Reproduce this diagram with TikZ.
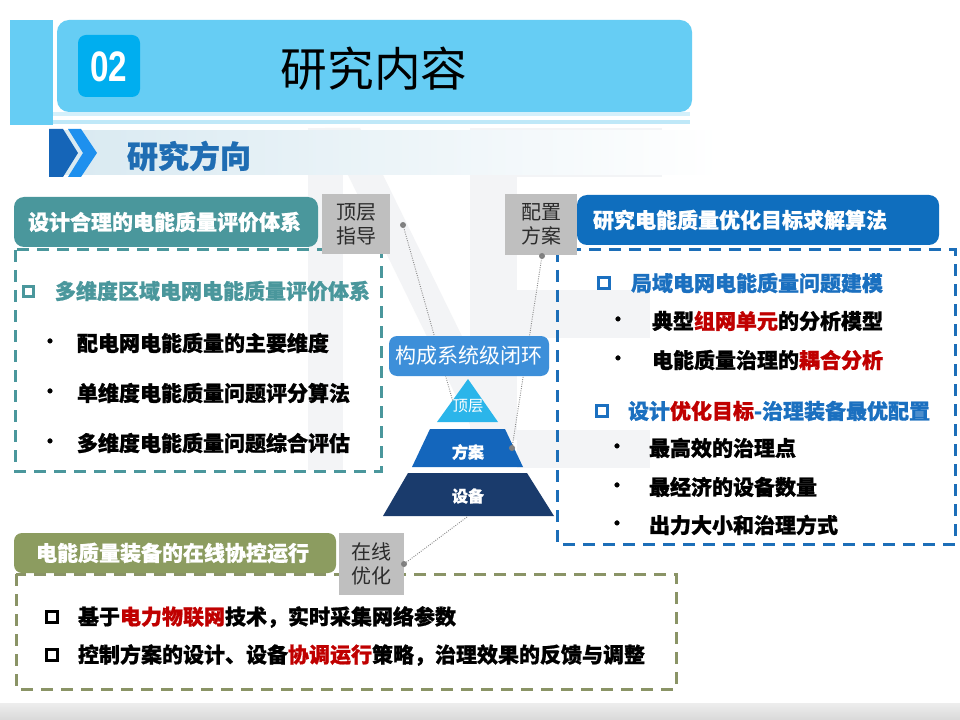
\documentclass[tikz,border=0pt]{standalone}
\usepackage{fontspec}
\setmainfont{Noto Sans CJK SC}[BoldFeatures={FakeBold=1}]
\newfontfamily\numfont{Liberation Sans}
\definecolor{hdrblue}{HTML}{66CDF4}
\definecolor{paleA}{HTML}{D4F0FB}
\definecolor{paleB}{HTML}{BFE8F8}
\definecolor{numblue}{HTML}{00AEEF}
\definecolor{chevdark}{HTML}{1565B8}
\definecolor{chevlight}{HTML}{1E90EE}
\definecolor{bandblue}{HTML}{D8E9F1}
\definecolor{secblue}{HTML}{1F6DB3}
\definecolor{tealc}{HTML}{4A979C}
\definecolor{boxgray}{HTML}{BFBFBF}
\definecolor{hblue}{HTML}{0F6EBE}
\definecolor{dblue}{HTML}{1C6EB8}
\definecolor{tblue}{HTML}{1B70C0}
\definecolor{hlred}{HTML}{C00000}
\definecolor{olivec}{HTML}{8C9C60}
\definecolor{dolive}{HTML}{8A9466}
\definecolor{loopblue}{HTML}{3D8FD9}
\definecolor{pyrA}{HTML}{2BB5EA}
\definecolor{pyrB}{HTML}{1466BC}
\definecolor{pyrC}{HTML}{1A3B6C}
\definecolor{wm}{HTML}{F3F4F6}
\definecolor{linegray}{HTML}{8C8C8C}
\definecolor{dotgray}{HTML}{7F7F7F}
\definecolor{graytext}{HTML}{2B2B2B}
\begin{document}
\begin{tikzpicture}[x=0.75pt,y=-0.75pt,
  every node/.style={inner sep=0pt,outer sep=0pt},
  graybox/.style={fill=boxgray, align=center, text=graytext, font=\fontsize{15}{18}\selectfont},
  hdtext/.style={anchor=west, text=white, font=\fontsize{15.75}{18}\selectfont\bfseries},
  body/.style={anchor=west, font=\fontsize{15.75}{18}\selectfont\bfseries},
  bul/.style={anchor=center, font=\fontsize{13}{13}\selectfont\bfseries},
  sq/.style={draw=#1, line width=2.4pt, minimum size=8pt},
  dashbox/.style={draw=#1, line width=2.25pt, dash pattern=on 9pt off 6pt},
  conn/.style={draw=linegray, line width=0.7pt, densely dotted},
  knob/.style={circle, fill=dotgray, minimum size=4.5pt},
  pyrtext/.style={text=white, font=\fontsize{12}{12}\selectfont\bfseries},
]
\useasboundingbox (0,0) rectangle (960,720);
\fill[white] (0,0) rectangle (960,720);

% faint background letters
\fill[wm] (308,128) rectangle (343,470);
\fill[wm] (325,128) -- (360,128) -- (503,420) -- (480,445) -- cycle;
\fill[wm] (470,128) rectangle (517,440);
\fill[wm] (517,128) rectangle (662,177);
\fill[wm] (517,290) rectangle (650,338);
\fill[wm] (517,430) rectangle (650,468);

% bottom band
\shade[top color=black!7, bottom color=black!15] (0,703) rectangle (960,720);

% header
\fill[paleA] (53,112) rectangle (690,116);
\fill[paleB] (10,120) rectangle (690,124);
\fill[hdrblue] (10,20) rectangle (53,125);
\node[fill=hdrblue, rounded corners=9pt, minimum width=476.25pt, minimum height=69pt] (hdr) at (374.5,66) {};
\node[fill=numblue, rounded corners=6pt, minimum width=46.5pt, minimum height=46.5pt] (num) at (109,66) {};
\node[text=white, font=\numfont\bfseries\fontsize{32}{32}\selectfont] (numt) at (109,67) {\scalebox{0.78}[1]{02}};
\node[font=\fontsize{35}{35}\selectfont] (title) at (374,69) {研究内容};

% section bar
\shade[left color=bandblue, right color=white] (49,131) rectangle (720,175);
\fill[chevdark] (49,129) -- (63,129) -- (78,153) -- (63,177) -- (49,177) -- cycle;
\fill[chevlight] (68,129) -- (81,129) -- (97,153) -- (81,177) -- (68,177) -- (83,153) -- cycle;
\node[anchor=west, text=secblue, font=\fontsize{23.25}{26}\selectfont\bfseries] (sec) at (127,156) {研究方向};

% dashed panels
\draw[dashbox=tealc] (15,250) rectangle (381,471);
\draw[dashbox=dblue] (557,250) rectangle (955,544);
\draw[dashbox=dolive] (16,574) rectangle (676,689);

% panel headers
\node[fill=tealc, rounded corners=7.5pt, minimum width=228pt, minimum height=37.5pt] (lh) at (166,222) {};
\node[hdtext] (lht) at (28,222) {设计合理的电能质量评价体系};
\node[fill=hblue, rounded corners=7.5pt, minimum width=271.5pt, minimum height=37.5pt] (rh) at (758,220) {};
\node[hdtext] (rht) at (593,220) {研究电能质量优化目标求解算法};
\node[fill=olivec, rounded corners=6pt, minimum width=241.5pt, minimum height=30pt] (bh) at (175,553) {};
\node[hdtext] (bht) at (36,553) {电能质量装备的在线协控运行};

% gray tags
\node[graybox, minimum width=51pt, minimum height=45pt] (g1) at (356,224) {顶层\\指导};
\node[graybox, minimum width=54pt, minimum height=45.75pt] (g2) at (541,224.5) {配置\\方案};
\node[graybox, minimum width=48.75pt, minimum height=46.5pt] (g3) at (371.5,564) {在线\\优化};

% pyramid
\fill[pyrA] (468,379) -- (498,422) -- (437,422) -- cycle;
\fill[pyrB] (430,429) -- (505,429) -- (523,467) -- (412,467) -- cycle;
\fill[pyrC] (408,473) -- (527,473) -- (554,516) -- (383,516) -- cycle;
\node[text=white, font=\fontsize{11.5}{12}\selectfont] (p1) at (468,406) {顶层};
\node[pyrtext] (p2) at (468,452) {方案};
\node[pyrtext] (p3) at (468,496) {设备};

% connectors
\coordinate (e1) at (453,402);
\coordinate (e4) at (467,517);
\node[knob] (k1) at (403,225) {};
\node[knob] (k2) at (542,256) {};
\node[knob] (k3) at (512,448) {};
\node[knob] (k4) at (404,564) {};
\draw[conn] (k1.center) -- (e1);
\draw[conn] (k2.center) -- (k3.center);
\draw[conn] (e4) -- (k4.center);

% closed loop box
\node[fill=loopblue, rounded corners=6pt, minimum width=120pt, minimum height=30pt, text=white, font=\fontsize{15.75}{18}\selectfont] (loop) at (469,356) {构成系统级闭环};

% left panel text
\node[sq=tealc] (ls) at (28.5,291.5) {};
\node[body, text=tealc] (lt) at (55,291) {多维度区域电网电能质量评价体系};
\node[bul] (lb1) at (50,343) {•};
\node[body] (l1) at (77,343) {配电网电能质量的主要维度};
\node[bul] (lb2) at (50,393) {•};
\node[body] (l2) at (77,393) {单维度电能质量问题评分算法};
\node[bul] (lb3) at (50,443) {•};
\node[body] (l3) at (77,443) {多维度电能质量问题综合评估};

% right panel text
\node[sq=tblue] (rs1) at (604,283) {};
\node[body, text=tblue] (rt1) at (631,283) {局域电网电能质量问题建模};
\node[bul] (rb1) at (618,321) {•};
\node[body] (r1) at (652,321) {典型{\color{hlred}组网单元}的分析模型};
\node[bul] (rb2) at (618,360) {•};
\node[body] (r2) at (652,360) {电能质量治理的{\color{hlred}耦合分析}};
\node[sq=tblue] (rs2) at (602,411) {};
\node[body, text=tblue] (rt2) at (628,411) {设计{\color{hlred}优化目标}-治理装备最优配置};
\node[bul] (rb3) at (617,448) {•};
\node[body] (r3) at (649,448) {最高效的治理点};
\node[bul] (rb4) at (617,487) {•};
\node[body] (r4) at (649,487) {最经济的设备数量};
\node[bul] (rb5) at (617,525) {•};
\node[body] (r5) at (649,525) {出力大小和治理方式};

% bottom panel text
\node[sq=black] (bs1) at (52,617) {};
\node[body] (b1) at (78,617) {基于{\color{hlred}电力物联网}技术，实时采集网络参数};
\node[sq=black] (bs2) at (52,655) {};
\node[body] (b2) at (78,655) {控制方案的设计、设备{\color{hlred}协调运行}策略，治理效果的反馈与调整};
\end{tikzpicture}
\end{document}
